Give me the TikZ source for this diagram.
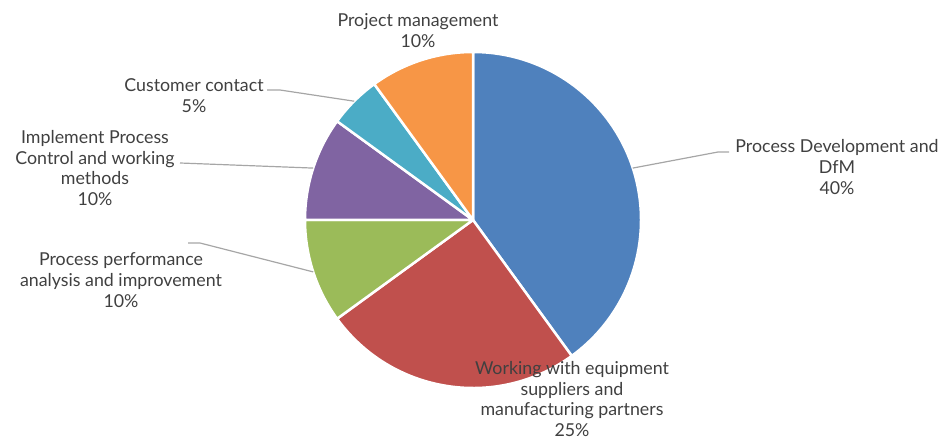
\documentclass[tikz,border=0pt]{standalone}
\usepackage{fontspec}
\setmainfont{Lato}
\usepackage{tikz}
\usetikzlibrary{positioning,calc}
\usepackage{xcolor}
\definecolor{pdblue}{HTML}{4F81BD}
\definecolor{wered}{HTML}{C0504D}
\definecolor{ppgreen}{HTML}{9BBB59}
\definecolor{ipviolet}{HTML}{8064A2}
\definecolor{ccteal}{HTML}{4BACC6}
\definecolor{pmorange}{HTML}{F79646}
\definecolor{labelgray}{HTML}{404040}
\definecolor{leadgray}{HTML}{A6A6A6}
\tikzset{
  slice/.style={draw=white, line width=2.5pt, line join=round},
  lbl/.style={align=center, text=labelgray, inner sep=1pt,
    font=\fontsize{17.8}{20.8}\selectfont},
  lead/.style={draw=leadgray, line width=1.2pt}
}

\begin{document}
\begin{tikzpicture}[x=1pt,y=1pt]
            \useasboundingbox (0,0) rectangle (944,436);
            \coordinate (O) at (473,216);

            % slices, clockwise from the top
            \fill[pdblue, slice] (O) -- ++(90:168) arc[start angle=90, end angle=-54, radius=168] -- cycle;
            \fill[wered, slice] (O) -- ++(-54:168) arc[start angle=-54, end angle=-144, radius=168] -- cycle;
            \fill[ppgreen, slice] (O) -- ++(-144:168) arc[start angle=-144, end angle=-180, radius=168] -- cycle;
            \fill[ipviolet, slice] (O) -- ++(180:168) arc[start angle=180, end angle=144, radius=168] -- cycle;
            \fill[ccteal, slice] (O) -- ++(144:168) arc[start angle=144, end angle=126, radius=168] -- cycle;
            \fill[pmorange, slice] (O) -- ++(126:168) arc[start angle=126, end angle=90, radius=168] -- cycle;

            % labels
            \node[lbl] (PD) at (837,269) {Process Development and\\DfM\\40\%};
            \node[lbl] (WE) at (572,37) {Working with equipment\\suppliers and\\manufacturing partners\\25\%};
            \node[lbl] (PP) at (121,156) {Process performance\\analysis and improvement\\10\%};
            \node[lbl] (IP) at (95,268) {Implement Process\\Control and working\\methods\\10\%};
            \node[lbl] (CC) at (194,340) {Customer contact\\5\%};
            \node[lbl] (PM) at (418,405.5) {Project management\\10\%};

            % leader lines
            \coordinate (pdE) at ($(O)+(18:168)$);
            \coordinate (ppE) at ($(O)+(-162:168)$);
            \coordinate (ipE) at ($(O)+(162:168)$);
            \coordinate (ccE) at ($(O)+(135:168)$);
            \draw[lead] (pdE) -- (718,284) -- (729,284);
            \draw[lead] (ppE) -- (200,193) -- (188,193);
            \draw[lead] (ipE) -- (180,273);
            \draw[lead] (ccE) -- (280,346) -- (267,346);
        \end{tikzpicture}
\end{document}
